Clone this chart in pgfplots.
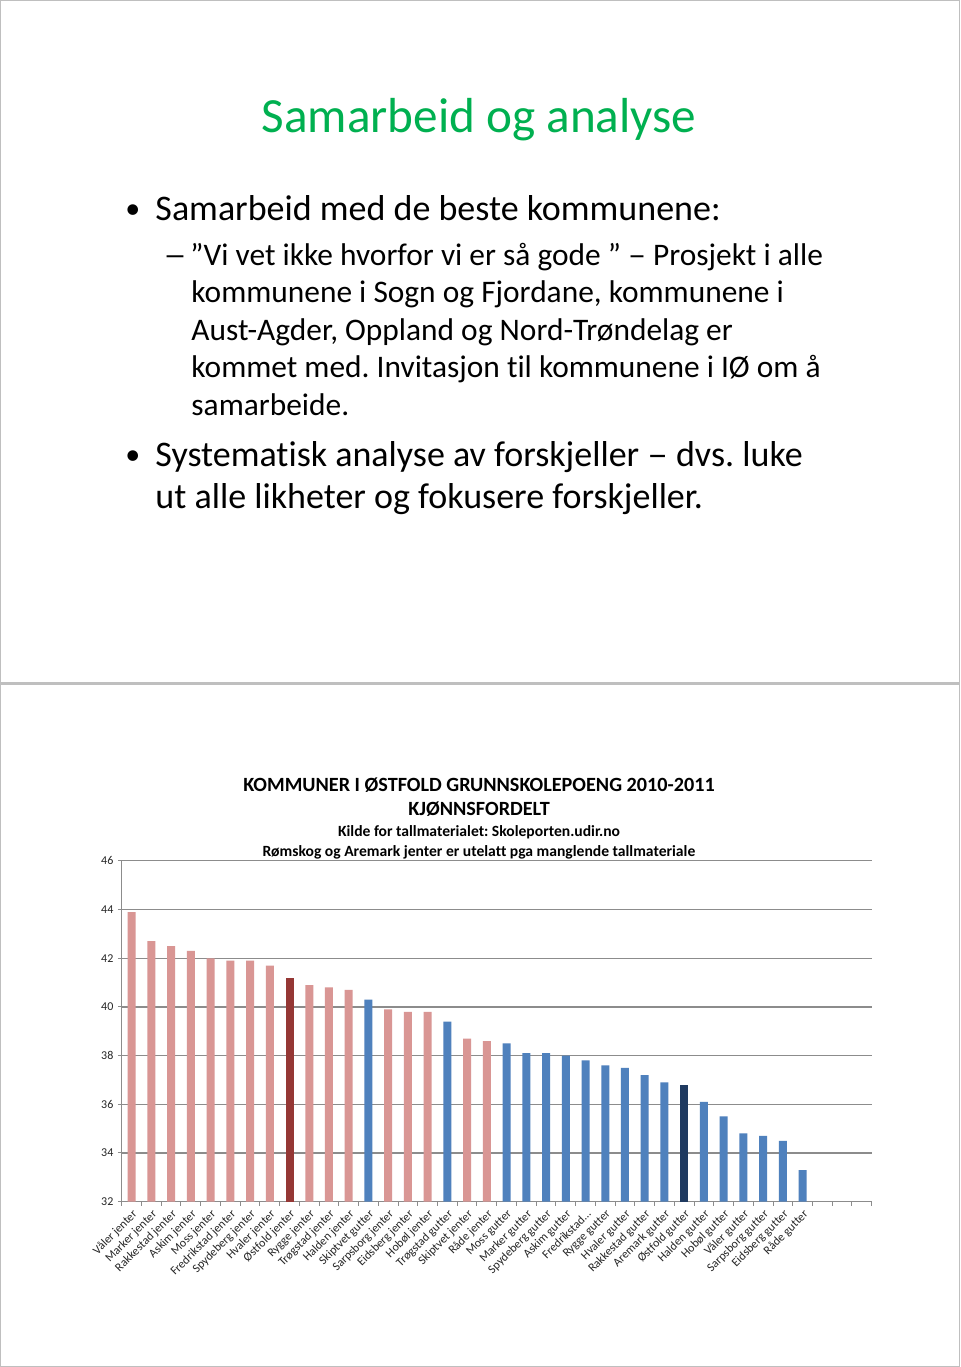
\documentclass[border=0pt]{standalone}
\usepackage{pgfplots}
\pgfplotsset{compat=1.18}
\usepackage{fontspec}
\setmainfont{Carlito}[Ligatures={NoCommon}]
\definecolor{tgreen}{HTML}{00B050}
\definecolor{pinkbar}{HTML}{D99694}
\definecolor{redbar}{HTML}{953735}
\definecolor{bluebar}{HTML}{4F81BD}
\definecolor{navybar}{HTML}{1F3A60}
\definecolor{gridc}{HTML}{8C8C8C}
\definecolor{framec}{HTML}{BFBFBF}
\frenchspacing
\begin{document}
\begin{tikzpicture}[x=0.5pt,y=-0.5pt]
\path[fill=white] (0,0) rectangle (960,1367);
\draw[framec,line width=0.6pt] (0.5,0.5) rectangle (959.5,683);
\draw[framec,line width=0.6pt] (0.5,684) rectangle (959.5,1366.5);
% top slide
\node[anchor=base,text=tgreen,font=\fontsize{24.6}{28}\selectfont,inner sep=0] at (479,132) {Samarbeid og analyse};
\begin{scope}[every node/.style={anchor=base west,inner sep=0}]
\node[font=\fontsize{15}{22}\selectfont] at (125,218) {•};
\node[font=\fontsize{18}{22}\selectfont] at (155,220) {Samarbeid med de beste kommunene:};
\node[font=\fontsize{15.7}{19}\selectfont] at (163,265) {\scalebox{1.5}[1]{–}};
\node[font=\fontsize{15.7}{19}\selectfont] at (190,265) {”Vi vet ikke hvorfor vi er så gode ” \scalebox{1.15}[1]{–} Prosjekt i alle};
\node[font=\fontsize{15.7}{19}\selectfont] at (191,302) {kommunene i Sogn og Fjordane, kommunene i};
\node[font=\fontsize{15.7}{19}\selectfont] at (191,340) {Aust-Agder, Oppland og Nord-Trøndelag er};
\node[font=\fontsize{15.7}{19}\selectfont] at (191,377) {kommet med. Invitasjon til kommunene i IØ om å};
\node[font=\fontsize{15.7}{19}\selectfont] at (191,415) {samarbeide.};
\node[font=\fontsize{15}{22}\selectfont] at (125,464) {•};
\node[font=\fontsize{18}{22}\selectfont] at (155,466) {Systematisk analyse av forskjeller \scalebox{1.15}[1]{–} dvs. luke};
\node[font=\fontsize{18}{22}\selectfont] at (155,508) {ut alle likheter og fokusere forskjeller.};
\end{scope}
% chart titles
\begin{scope}[every node/.style={anchor=base,inner sep=0}]
\node[font=\bfseries\fontsize{10.1}{12}\selectfont] at (479,792) {KOMMUNER I ØSTFOLD GRUNNSKOLEPOENG 2010-2011};
\node[font=\bfseries\fontsize{10.1}{12}\selectfont] at (479,816) {KJØNNSFORDELT};
\node[font=\bfseries\fontsize{7.8}{9}\selectfont] at (479,837) {Kilde for tallmaterialet: Skoleporten.udir.no};
\node[font=\bfseries\fontsize{7.8}{9}\selectfont] at (479,857) {Rømskog og Aremark jenter er utelatt pga manglende tallmateriale};
\end{scope}
\begin{axis}[
  at={(60.85pt,-600.85pt)}, anchor=south west,
  width=375pt, height=170.4pt, scale only axis,
  xmin=0.5, xmax=38.5, ymin=32, ymax=46,
  ytick={32,34,...,46},
  xtick={0.5,1.5,...,38.5},
  x tick label as interval,
  xticklabels={Våler jenter,Marker jenter,Rakkestad jenter,Askim jenter,Moss jenter,Fredrikstad jenter,Spydeberg jenter,Hvaler jenter,Østfold jenter,Rygge jenter,Trøgstad jenter,Halden jenter,Skiptvet gutter,Sarpsborg jenter,Eidsberg jenter,Hobøl jenter,Trøgstad gutter,Skiptvet jenter,Råde jenter,Moss gutter,Marker gutter,Spydeberg gutter,Askim gutter,Fredrikstad…,Rygge gutter,Hvaler gutter,Rakkestad gutter,Aremark gutter,Østfold gutter,Halden gutter,Hobøl gutter,Våler gutter,Sarpsborg gutter,Eidsberg gutter,Råde gutter,{},{},{}},
  axis x line*=bottom, axis y line*=left,
  axis line style={gridc, line width=0.6pt},
  ymajorgrids, grid style={gridc, line width=0.6pt},
  tick align=outside, major tick length=2pt,
  tick style={gridc, line width=0.5pt},
  tick label style={font=\fontsize{6}{7}\selectfont, text=black!85},
  /pgf/number format/assume math mode=true,
  x tick label style={rotate=45, anchor=north east, inner sep=1pt},
  y tick label style={inner sep=2pt},
  ybar, bar width=4pt, bar shift=0pt,
]
\addplot[fill=pinkbar, draw=none] coordinates {(1,43.9) (2,42.7) (3,42.5) (4,42.3) (5,42.0) (6,41.9) (7,41.9) (8,41.7) (10,40.9) (11,40.8) (12,40.7) (14,39.9) (15,39.8) (16,39.8) (18,38.7) (19,38.6)};
\addplot[fill=redbar, draw=none] coordinates {(9,41.2)};
\addplot[fill=bluebar, draw=none] coordinates {(13,40.3) (17,39.4) (20,38.5) (21,38.1) (22,38.1) (23,38.0) (24,37.8) (25,37.6) (26,37.5) (27,37.2) (28,36.9) (30,36.1) (31,35.5) (32,34.8) (33,34.7) (34,34.5) (35,33.3)};
\addplot[fill=navybar, draw=none] coordinates {(29,36.8)};
\end{axis}
\end{tikzpicture}
\end{document}
